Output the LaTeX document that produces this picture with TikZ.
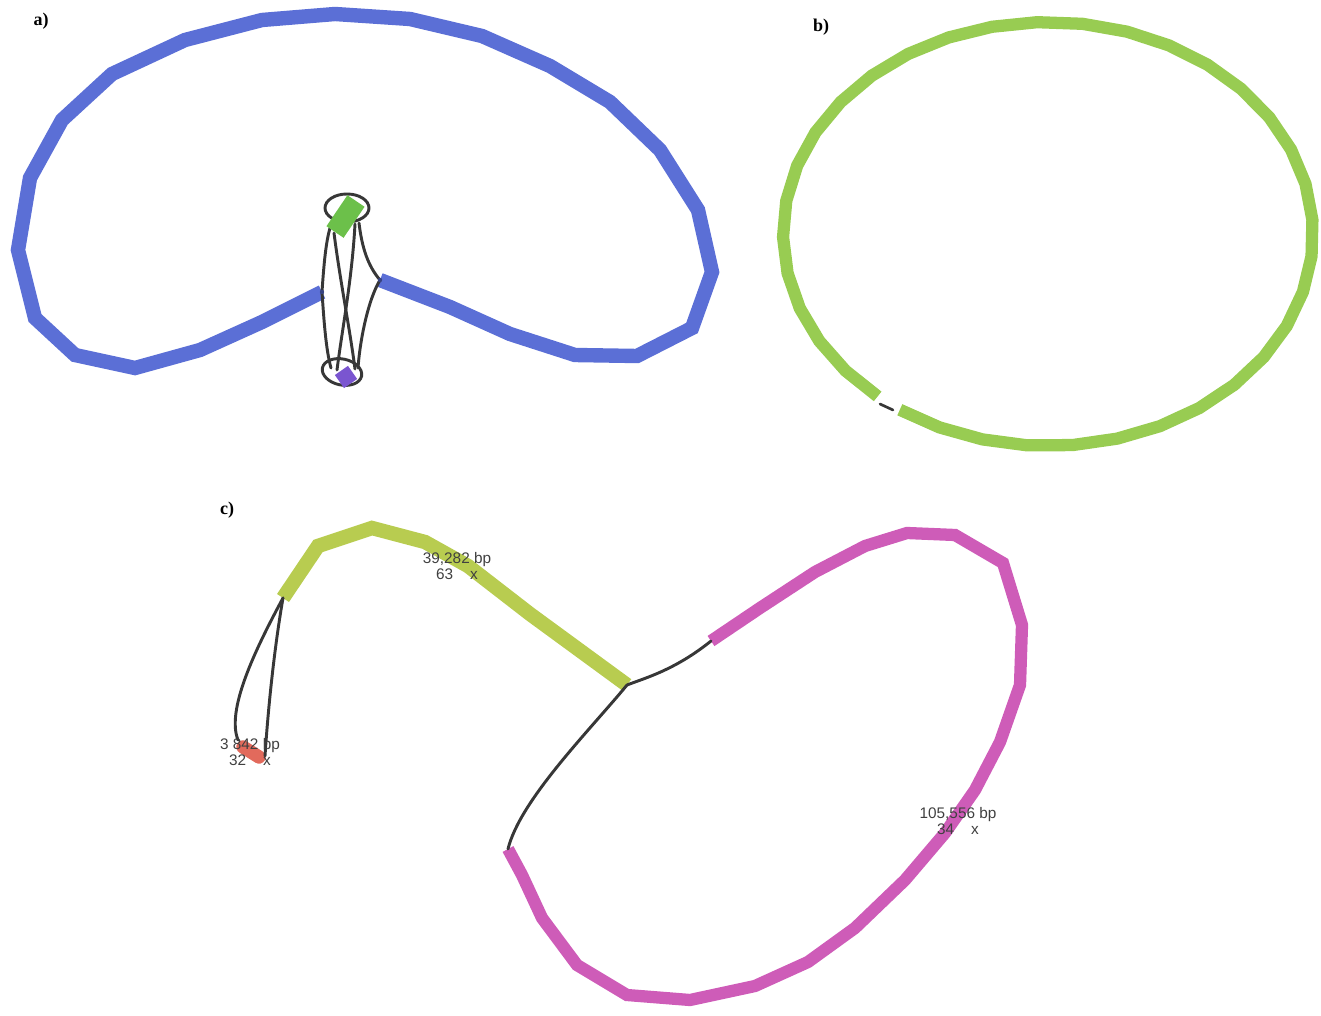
\documentclass[tikz,border=0pt]{standalone}
\usepackage{fontspec}
\setmainfont{Liberation Serif}
\newfontfamily\lblfont{Liberation Sans}
\definecolor{cblue}{RGB}{91,111,214}
\definecolor{cgreenb}{RGB}{152,204,82}
\definecolor{cgreena}{RGB}{108,192,74}
\definecolor{cpurple}{RGB}{122,85,208}
\definecolor{cyg}{RGB}{184,204,80}
\definecolor{cmag}{RGB}{206,92,184}
\definecolor{cred}{RGB}{226,106,92}
\definecolor{clink}{RGB}{55,55,55}
\tikzset{
  contig/.style={line width=10.8pt, line cap=butt, line join=miter},
  thincontig/.style={line width=9.2pt, line cap=butt, line join=miter},
  link/.style={line width=2.2pt, draw=clink, line cap=round},
  panel/.style={font=\bfseries\fontsize{13.5}{15}\selectfont, inner sep=0pt},
  lbl/.style={font=\lblfont\fontsize{11.5}{11.5}\selectfont, text=black!75, inner sep=0pt, align=center}
}
\begin{document}
\begin{tikzpicture}[x=0.75pt,y=-0.75pt]
\useasboundingbox (0,0) rectangle (1321,1016);
% ---------------- panel a ----------------
\node[panel] (la) at (41,21) {a)};
\coordinate (aL) at (322,292);
\coordinate (aR) at (380,280);
\draw[contig, cblue] (aL) -- (262,322) -- (200,350) -- (135,368) -- (75,355) -- (35,318) -- (18,250)
  -- (30,178) -- (62,120) -- (112,74) -- (185,40) -- (262,20) -- (335,14) -- (410,19) -- (482,36)
  -- (550,66) -- (610,102) -- (660,150) -- (698,210) -- (712,272) -- (692,328) -- (637,356)
  -- (575,355) -- (510,334) -- (450,307) -- (aR);
% loops
\draw[link] (347,208) ellipse [x radius=22, y radius=14];
\draw[link, rotate around={-12:(342,372)}] (342,372) ellipse [x radius=20, y radius=13];
% connectors
\coordinate (gA) at (330,228);
\coordinate (gB) at (359,223);
\coordinate (gC) at (334,233);
\coordinate (gD) at (355,224);
\coordinate (pA) at (331,368);
\coordinate (pB) at (358,368);
\coordinate (pC) at (355,369);
\coordinate (pD) at (337,370);
\draw[link] (aL) .. controls (324,262) and (326,242) .. (gA);
\draw[link] (aL) .. controls (324,322) and (326,350) .. (pA);
\draw[link] (aR) .. controls (368,266) and (362,248) .. (gB);
\draw[link] (aR) .. controls (368,300) and (360,340) .. (pB);
\draw[link] (gC) .. controls (340,280) and (350,330) .. (pC);
\draw[link] (gD) .. controls (352,280) and (342,330) .. (pD);
\fill[cblue!60!black] (aL) circle (2.2);
\fill[cblue!60!black] (aR) circle (2.2);
% green and purple contigs
\draw[line width=15.5pt, cgreena, line cap=butt] (335,232) -- (356,201);
\fill[cpurple, rotate around={35:(346,377)}] (338,369) rectangle (354,385);
% ---------------- panel b ----------------
\node[panel] (lb) at (821,27) {b)};
\draw[thincontig, cgreenb] plot[domain=130:484, samples=37] ({1048+265*cos(\x)},{234+212*sin(\x)});
\coordinate (bA) at (880,404);
\coordinate (bB) at (893,410);
\draw[link, line width=2pt] (bA) -- (bB);
% ---------------- panel c ----------------
\node[panel] (lc) at (227,510) {c)};
\coordinate (yA) at (283,598);
\coordinate (yB) at (627,685);
\draw[contig, cyg] (yA) -- (318,546) -- (372,528) -- (425,542) -- (468,566) -- (530,614) -- (yB);
\coordinate (rA) at (238,740);
\coordinate (rB) at (265,756);
\draw[line width=10pt, cred, line cap=round] (243,747) -- (259,757);
\draw[link] (yA) .. controls (255,650) and (226,710) .. (rA);
\draw[link] (yA) .. controls (274,650) and (268,710) .. (rB);
\coordinate (mA) at (711,641);
\coordinate (mB) at (508,849);
\draw[thincontig, cmag] (mA) -- (760,608) -- (815,572) -- (865,546) -- (907,533) -- (955,535)
  -- (1003,563) -- (1022,625) -- (1020,685) -- (1000,742) -- (975,790) -- (945,833) -- (905,880)
  -- (855,928) -- (808,962) -- (755,986) -- (690,1000) -- (627,995) -- (577,965) -- (542,918)
  -- (522,875) -- (mB);
\draw[link] (yB) .. controls (645,678) and (675,670) .. (mA);
\draw[link] (yB) .. controls (590,730) and (520,800) .. (mB);
% labels
\node[lbl] (t1) at (457,566) {39,282 bp\\63\hspace{1.1em}x};
\node[lbl] (t2) at (250,752) {3 842 bp\\32\hspace{1.1em}x};
\node[lbl] (t3) at (958,821) {105,556 bp\\34\hspace{1.1em}x};
\end{tikzpicture}
\end{document}
